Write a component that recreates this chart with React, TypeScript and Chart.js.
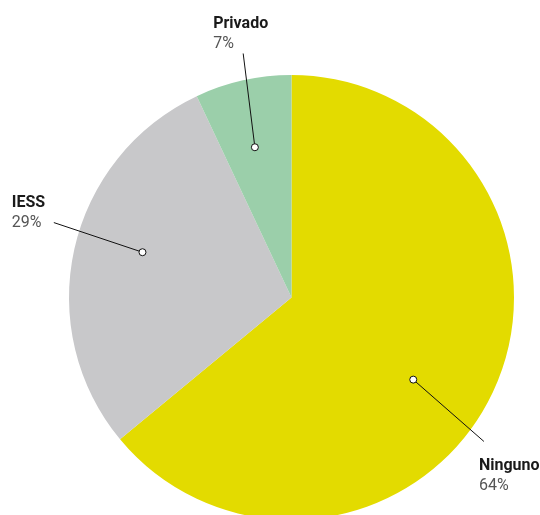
import React, { useEffect, useRef } from "react";
import { Chart, registerables } from "chart.js";

Chart.register(...registerables);

const categories = ["Ninguno", "IESS", "Privado"];
const values = [64, 29, 7];
const percentLabels = ["64%", "29%", "7%"];
const colors = ["#E3DB00", "#C8C8CA", "#9BCFAA"];

// label layout (angle offsets from slice mid-angle in degrees, radius fractions, text offsets)
const dotAngleOffset = [8.8, 4.3, -1.1];
const dotRadius = [0.66, 0.7, 0.695];
const endAngleOffset = [11.6, 4.9, 1.4];
const endRadius = [1.08, 1.12, 1.118];
const textDx = [-5, -42, -30];
const textDy = [29, -16, -25];

const labelPlugin = {
  id: "pieLabels",
  afterDatasetsDraw(chart: any) {
    const ctx = chart.ctx;
    const meta = chart.getDatasetMeta(0);
    meta.data.forEach((arc: any, i: number) => {
      const { x, y, startAngle, endAngle, outerRadius } = arc.getProps(
        ["x", "y", "startAngle", "endAngle", "outerRadius"],
        true
      );
      const mid = (startAngle + endAngle) / 2;
      const da = mid + (dotAngleOffset[i] * Math.PI) / 180;
      const ea = mid + (endAngleOffset[i] * Math.PI) / 180;
      const dx = x + Math.cos(da) * outerRadius * dotRadius[i];
      const dy = y + Math.sin(da) * outerRadius * dotRadius[i];
      const ex = x + Math.cos(ea) * outerRadius * endRadius[i];
      const ey = y + Math.sin(ea) * outerRadius * endRadius[i];
      ctx.save();
      ctx.strokeStyle = "#111";
      ctx.lineWidth = 1;
      ctx.beginPath();
      ctx.moveTo(dx, dy);
      ctx.lineTo(ex, ey);
      ctx.stroke();
      ctx.beginPath();
      ctx.arc(dx, dy, 3.5, 0, Math.PI * 2);
      ctx.fillStyle = "#fff";
      ctx.fill();
      ctx.stroke();
      const tx = ex + textDx[i];
      const ty = ey + textDy[i];
      ctx.textAlign = "left";
      ctx.textBaseline = "alphabetic";
      ctx.fillStyle = "#1a1a1a";
      ctx.font = "bold 16px Roboto";
      ctx.fillText(categories[i], tx, ty);
      ctx.fillStyle = "#555";
      ctx.font = "16px Roboto";
      ctx.fillText(percentLabels[i], tx, ty + 20);
      ctx.restore();
    });
  },
};

export default function App() {
  const ref = useRef<HTMLCanvasElement>(null);
  useEffect(() => {
    document.body.style.margin = "0";
    const chart = new Chart(ref.current!, {
      type: "pie",
      data: {
        labels: categories,
        datasets: [
          {
            data: values,
            backgroundColor: colors,
            borderWidth: 0,
          },
        ],
      },
      options: {
        animation: false,
        responsive: true,
        maintainAspectRatio: false,
        layout: { padding: { left: 69, right: 26, top: 75, bottom: 80 } },
        plugins: {
          legend: { display: false },
          tooltip: { enabled: false },
        },
      },
      plugins: [labelPlugin],
    });
    return () => chart.destroy();
  }, []);
  return (
    <div
      style={{
        position: "absolute",
        left: 0,
        top: 0,
        width: 540,
        height: 515,
        overflow: "hidden",
        background: "#fff",
      }}
    >
      <div style={{ position: "relative", width: 540, height: 600 }}>
        <canvas ref={ref} />
      </div>
    </div>
  );
}
